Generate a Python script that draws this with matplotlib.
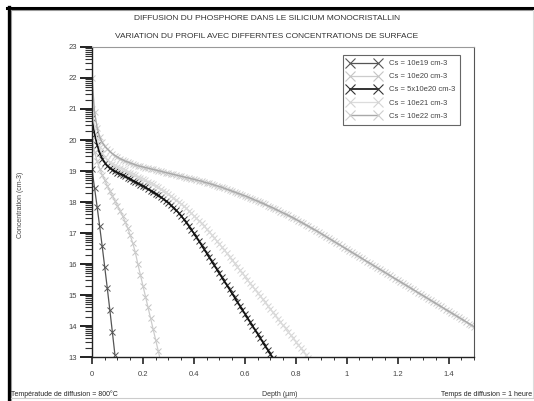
import numpy as np
import matplotlib
matplotlib.use("Agg")
import matplotlib.pyplot as plt
from matplotlib.lines import Line2D
from matplotlib.ticker import FixedLocator

plt.rcParams['font.family'] = ['Liberation Sans', 'DejaVu Sans']

# depth step of the simulation (um)
step = 0.01

# log10 of concentration (cm-3), one value per depth step starting at 0
cs_1e19 = [19.05, 18.45, 17.85, 17.22, 16.57, 15.90, 15.22, 14.52, 13.80, 13.07]

cs_1e20 = [20.00, 19.62, 19.32, 19.08, 18.88, 18.70, 18.53, 18.36, 18.20, 18.04,
           17.88, 17.72, 17.55, 17.37, 17.16, 16.93, 16.67, 16.38, 16.00, 15.65,
           15.30, 14.95, 14.60, 14.25, 13.90, 13.55, 13.20, 12.85]

cs_5e20 = [20.70, 20.20, 19.85, 19.58, 19.40, 19.27, 19.17, 19.10, 19.04, 18.99,
           18.95, 18.91, 18.87, 18.83, 18.78, 18.74, 18.69, 18.65, 18.60, 18.56,
           18.51, 18.47, 18.42, 18.37, 18.32, 18.27, 18.21, 18.16, 18.10, 18.04,
           17.98, 17.90, 17.82, 17.74, 17.65, 17.55, 17.45, 17.34, 17.23, 17.11,
           16.99, 16.87, 16.74, 16.61, 16.48, 16.35, 16.22, 16.09, 15.96, 15.83,
           15.70, 15.57, 15.44, 15.31, 15.18, 15.05, 14.92, 14.79, 14.66, 14.53,
           14.40, 14.27, 14.14, 14.01, 13.88, 13.75, 13.62, 13.49, 13.36, 13.23,
           13.10, 12.97]

cs_1e21 = [21.00, 20.45, 20.05, 19.77, 19.58, 19.45, 19.36, 19.29, 19.23, 19.18,
           19.14, 19.10, 19.06, 19.02, 18.98, 18.94, 18.90, 18.86, 18.82, 18.78,
           18.74, 18.70, 18.66, 18.61, 18.57, 18.52, 18.47, 18.42, 18.37, 18.32,
           18.26, 18.20, 18.14, 18.08, 18.01, 17.94, 17.87, 17.80, 17.72, 17.64,
           17.56, 17.48, 17.40, 17.31, 17.22, 17.13, 17.04, 16.95, 16.85, 16.75,
           16.65, 16.55, 16.45, 16.34, 16.23, 16.12, 16.02, 15.91, 15.81, 15.70,
           15.60, 15.49, 15.39, 15.28, 15.18, 15.07, 14.97, 14.86, 14.76, 14.65,
           14.55, 14.44, 14.34, 14.23, 14.13, 14.02, 13.92, 13.81, 13.71, 13.60,
           13.50, 13.39, 13.29, 13.18, 13.08, 12.97]

cs_1e22 = [22.00, 20.90, 20.40, 20.10, 19.92, 19.80, 19.71, 19.63, 19.56, 19.50,
           19.45, 19.40, 19.36, 19.32, 19.29, 19.26, 19.23, 19.20, 19.17, 19.15,
           19.13, 19.11, 19.09, 19.07, 19.05, 19.03, 19.01, 18.99, 18.97, 18.95,
           18.93, 18.91, 18.89, 18.87, 18.85, 18.83, 18.81, 18.79, 18.77, 18.75,
           18.73, 18.71, 18.69, 18.67, 18.64, 18.62, 18.60, 18.57, 18.55, 18.52,
           18.50, 18.47, 18.44, 18.41, 18.38, 18.35, 18.32, 18.29, 18.26, 18.23,
           18.20, 18.17, 18.13, 18.10, 18.06, 18.03, 17.99, 17.96, 17.92, 17.88,
           17.85, 17.81, 17.77, 17.73, 17.69, 17.65, 17.61, 17.57, 17.53, 17.49,
           17.44, 17.40, 17.35, 17.31, 17.26, 17.22, 17.17, 17.12, 17.08, 17.03,
           16.98, 16.93, 16.88, 16.83, 16.78, 16.73, 16.68, 16.63, 16.58, 16.53,
           16.48, 16.43, 16.38, 16.33, 16.28, 16.23, 16.18, 16.13, 16.08, 16.03,
           15.98, 15.93, 15.88, 15.83, 15.78, 15.73, 15.68, 15.63, 15.58, 15.53,
           15.48, 15.43, 15.38, 15.33, 15.28, 15.23, 15.18, 15.13, 15.08, 15.03,
           14.98, 14.93, 14.88, 14.83, 14.78, 14.73, 14.68, 14.63, 14.58, 14.53,
           14.48, 14.43, 14.38, 14.33, 14.28, 14.23, 14.18, 14.13, 14.08, 14.03,
           13.98]

labels = ["Cs = 10e19 cm-3", "Cs = 10e20 cm-3", "Cs = 5x10e20 cm-3",
          "Cs = 10e21 cm-3", "Cs = 10e22 cm-3"]
series = [cs_1e19, cs_1e20, cs_5e20, cs_1e21, cs_1e22]

# line colour, marker colour, line width
styles = [("#555555", "#555555", 0.9),
          ("#cccccc", "#c4c4c4", 0.9),
          ("#111111", "#333333", 1.2),
          ("#dcdcdc", "#d4d4d4", 0.9),
          ("#a8a8a8", "#cdcdcd", 1.0)]

fig = plt.figure(figsize=(5.34, 4.01), dpi=100)
ax = fig.add_axes([0.1723, 0.1097, 0.7153, 0.7731])

handles = []
for vals, lab, (lc, mc, lw) in zip(series, labels, styles):
    depth = np.arange(len(vals)) * step
    ax.plot(depth, vals, color=lc, lw=lw, zorder=2)
    ax.plot(depth, vals, ls='none', marker='x', ms=5, mew=0.7, color=mc, zorder=1)
    handles.append(Line2D([], [], color=lc, lw=lw, marker='x', ms=6.5, mew=0.8,
                          markeredgecolor=mc))

ax.set_xlim(0, 1.5)
ax.set_ylim(13, 23)
ax.set_xticks(np.arange(0, 1.51, 0.2))
ax.set_xticklabels(["0", "0.2", "0.4", "0.6", "0.8", "1", "1.2", "1.4"])
ax.xaxis.set_minor_locator(FixedLocator(np.arange(0, 1.51, 0.05)))
ax.set_yticks(range(13, 24))
minor_y = [n + np.log10(k) for n in range(13, 23) for k in range(2, 10)]
ax.yaxis.set_minor_locator(FixedLocator(minor_y))

ax.tick_params(axis='y', which='major', direction='out', length=9, width=1.4,
               color='#222222', labelsize=5.5, labelcolor='#444444', pad=2)
ax.tick_params(axis='y', which='minor', direction='out', length=5, width=0.8,
               color='#333333')
ax.tick_params(axis='x', which='major', direction='out', length=5, width=1.2,
               color='#222222', labelsize=5.5, labelcolor='#444444', pad=5)
ax.tick_params(axis='x', which='minor', direction='out', length=2.5, width=0.7,
               color='#333333')

ax.spines['left'].set_color('#222222')
ax.spines['bottom'].set_color('#222222')
ax.spines['left'].set_linewidth(1.0)
ax.spines['bottom'].set_linewidth(1.0)
ax.spines['top'].set_color('#999999')
ax.spines['right'].set_color('#555555')
ax.spines['top'].set_linewidth(0.8)
ax.spines['right'].set_linewidth(0.8)

leg = fig.legend(handles, labels, loc='upper left',
                 bbox_to_anchor=(343 / 534, 1 - 55 / 401), fontsize=5.5,
                 handlelength=4.2, handletextpad=1.2, labelspacing=0.75,
                 borderpad=0.65, borderaxespad=0, numpoints=2,
                 fancybox=False, framealpha=1)
leg.get_frame().set_edgecolor('#666666')
leg.get_frame().set_linewidth(0.8)
for t in leg.get_texts():
    t.set_color('#444444')

fig.text(0.5, 1 - 18 / 401, "DIFFUSION DU PHOSPHORE DANS LE SILICIUM MONOCRISTALLIN",
         ha='center', va='center', fontsize=6, color='#333333')
fig.text(0.5, 1 - 36 / 401, "VARIATION DU PROFIL AVEC DIFFERNTES CONCENTRATIONS DE SURFACE",
         ha='center', va='center', fontsize=6, color='#333333')
fig.text(21 / 534, 1 - 205 / 401, "Concentration (cm-3)", rotation=90,
         ha='center', va='center', fontsize=5, color='#444444')
fig.text(280 / 534, 1 - 394 / 401, "Depth (\u00b5m)", ha='center', va='center',
         fontsize=5, color='#333333')
fig.text(11 / 534, 1 - 394 / 401, "Températude de diffusion = 800°C",
         ha='left', va='center', fontsize=5, color='#222222')
fig.text(532 / 534, 1 - 394 / 401, "Temps de diffusion = 1 heure",
         ha='right', va='center', fontsize=5, color='#222222')

# window frame around the picture
def fig_line(x0, y0, x1, y1, color, lw):
    fig.add_artist(Line2D([x0 / 534, x1 / 534], [1 - y0 / 401, 1 - y1 / 401],
                          color=color, lw=lw, transform=fig.transFigure))

fig_line(7, 8, 534, 8, '#000000', 2.2)
fig_line(8.5, 7, 8.5, 401, '#000000', 2.4)
fig_line(11, 10.3, 534, 10.3, '#999999', 0.8)
fig_line(11, 10, 11, 401, '#999999', 0.8)
fig_line(532.5, 10, 532.5, 398, '#dddddd', 0.8)
fig_line(11, 398, 533, 398, '#cccccc', 0.8)

fig.savefig("out.png", dpi=100)
